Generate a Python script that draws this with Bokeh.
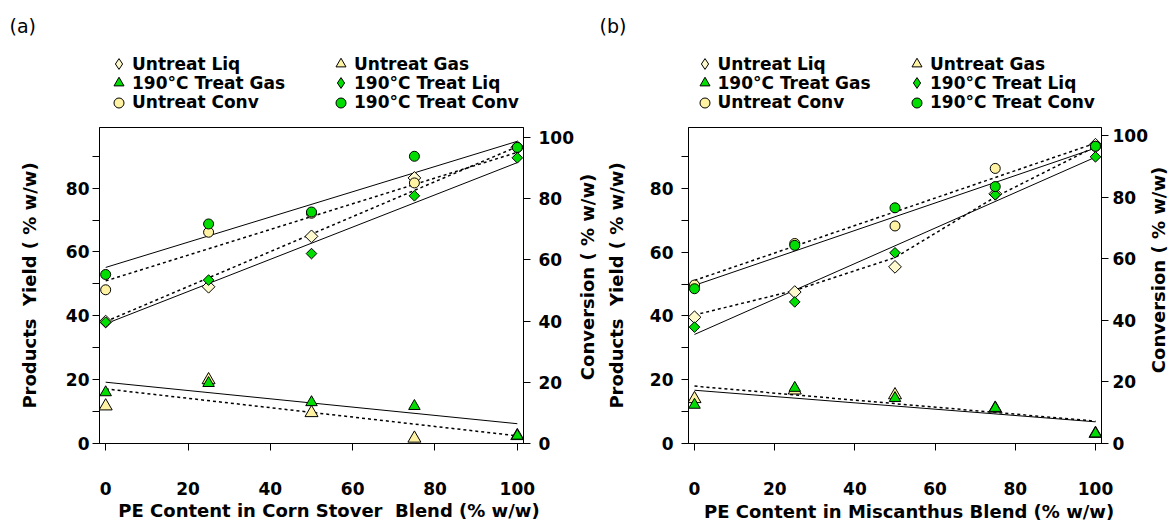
import math
from bokeh.plotting import figure
from bokeh.models import Range1d, LinearAxis, FixedTicker, Legend, LegendItem, Label, Title
from bokeh.layouts import row, column
from bokeh.embed import file_html
from bokeh.resources import INLINE

# ---------------- data ----------------
pe = [0, 25, 50, 75, 100]          # PE content in blend (% w/w)
fit_x = [0, 100]

# (a) Corn stover blend
a_untreat_liq = [38.2, 49.1, 64.9, 83.2, 92.8]
a_treat_liq = [38.0, 51.2, 59.5, 77.6, 89.5]
a_untreat_gas = [11.7, 19.9, 9.6, 1.6, 2.4]
a_treat_gas = [16.0, 18.9, 12.9, 11.7, 2.4]
a_untreat_conv = [50.2, 69.0, 75.2, 85.1, 96.7]
a_treat_conv = [55.2, 71.7, 75.6, 93.8, 96.7]
# trend lines (a)
a_fit_treat_conv = [57.5, 98.7]
a_fit_untreat_conv = [53.1, 95.1]
a_fit_treat_liq = [37.5, 88.0]
a_fit_untreat_liq = [38.2, 93.0]
a_fit_treat_gas = [19.2, 6.2]
a_fit_untreat_gas = [17.1, 2.4]

# (b) Miscanthus blend
b_untreat_liq = [39.6, 47.5, 55.4, 78.3, 93.7]
b_treat_liq = [36.5, 44.4, 59.8, 78.0, 89.9]
b_untreat_gas = [14.0, 16.7, 15.2, 11.0, 3.1]
b_treat_gas = [12.1, 17.4, 14.2, 11.1, 3.1]
b_untreat_conv = [51.5, 65.0, 70.7, 89.4, 96.6]
b_treat_conv = [50.3, 64.4, 76.6, 83.5, 96.6]
# trend lines (b)
b_fit_treat_conv = [51.4, 96.0]
b_fit_untreat_conv = [53.0, 97.6]
b_fit_treat_liq = [34.2, 89.8]
b_fit_untreat_liq = [40.3, 48.0, 58.3, 77.3, 93.1]
b_fit_treat_gas = [16.7, 6.8]
b_fit_untreat_gas = [18.0, 7.0]

legend_labels = ["Untreat Liq", "Untreat Gas", "190°C Treat Gas",
                 "190°C Treat Liq", "Untreat Conv", "190°C Treat Conv"]
yticks_left = [0, 20, 40, 60, 80]
yticks_left_minor = [10, 30, 50, 70, 90]
yticks_right = [0, 20, 40, 60, 80, 100]
xticks = [0, 20, 40, 60, 80, 100]

FONT = "DejaVu Sans"
GREEN = "#00DD00"
CREAM = "#FFFACD"
YELLOW = "#FFF3A3"
W = 1168
HEAD_H = 116
MAIN_H = 522 - HEAD_H

STYLES = {
    "ul": dict(marker="square", angle=math.pi / 4, size=9, fill_color=CREAM),
    "ug": dict(marker="triangle", size=13, fill_color=YELLOW),
    "uc": dict(marker="circle", size=10, fill_color=YELLOW),
    "tl": dict(marker="square", angle=math.pi / 4, size=7.5, fill_color=GREEN),
    "tg": dict(marker="triangle", size=11.5, fill_color=GREEN),
    "tc": dict(marker="circle", size=10, fill_color=GREEN),
}
LEG_MARKER = {"ul": "diamond", "ug": "triangle", "uc": "circle",
              "tl": "diamond", "tg": "triangle", "tc": "circle"}


def bare_fig(w, h):
    f = figure(width=w, height=h, x_range=Range1d(0, w), y_range=Range1d(0, h),
               output_backend="svg", toolbar_location=None, title=None,
               x_axis_location=None, y_axis_location=None,
               min_border_left=0, min_border_right=0, min_border_top=0, min_border_bottom=0)
    f.xgrid.visible = False
    f.ygrid.visible = False
    f.outline_line_color = None
    return f


def style_axis(ax, standoff, label_standoff=None):
    ax.axis_line_color = "black"
    ax.axis_line_width = 1
    ax.major_tick_line_color = "black"
    ax.minor_tick_line_color = "black"
    ax.major_tick_in = 0
    ax.major_tick_out = 7
    ax.minor_tick_in = 0
    ax.minor_tick_out = 0
    ax.major_label_text_font = FONT
    ax.major_label_text_font_style = "bold"
    ax.major_label_text_font_size = "17px"
    ax.major_label_text_color = "black"
    ax.major_label_standoff = standoff
    ax.axis_label_text_font = FONT
    ax.axis_label_text_font_style = "bold"
    ax.axis_label_text_font_size = "18px"
    ax.axis_label_text_color = "black"
    if label_standoff is not None:
        ax.axis_label_standoff = label_standoff


# ---------------- header: panel letters and legends ----------------
head = bare_fig(W, HEAD_H)

# legend-only renderers (hidden; they only supply the legend glyphs)
key_series = {"ul": a_untreat_liq, "ug": a_untreat_gas, "uc": a_untreat_conv,
              "tl": a_treat_liq, "tg": a_treat_gas, "tc": a_treat_conv}
leg_r = {}
for k, st in STYLES.items():
    leg_r[k] = head.scatter(pe, key_series[k], marker=LEG_MARKER[k],
                            fill_color=st["fill_color"], line_color="black",
                            line_width=1, visible=False)

leg_rows = [63.5, 82.8, 102.0]                    # row centres (px from top)
leg_cols = {"a": [118.5, 340.5], "b": [704.0, 916.5]}   # glyph centres (px)
grid = [[(legend_labels[0], "ul"), (legend_labels[1], "ug")],
        [(legend_labels[2], "tg"), (legend_labels[3], "tl")],
        [(legend_labels[4], "uc"), (legend_labels[5], "tc")]]
for pan in ("a", "b"):
    for ri, ry in enumerate(leg_rows):
        for ci, gx in enumerate(leg_cols[pan]):
            text, k = grid[ri][ci]
            gb = 27 if k in ("ul", "tl") else 25
            leg = Legend(items=[LegendItem(label=text, renderers=[leg_r[k]])],
                         location=(gx - gb / 2, HEAD_H - (ry + gb / 2)),
                         orientation="vertical", glyph_width=gb, glyph_height=gb,
                         label_standoff=1 if gb == 25 else 0, spacing=0, padding=0, margin=0,
                         border_line_color=None, background_fill_alpha=0,
                         label_height=19, inactive_fill_alpha=0,
                         label_text_font=FONT, label_text_font_style="bold",
                         label_text_font_size="17px", label_text_color="black")
            head.add_layout(leg, "center")

for tag, tx in [("(a)", 9), ("(b)", 599)]:
    head.add_layout(Label(x=tx, y=HEAD_H - 25, text=tag, text_align="left",
                          text_baseline="middle", text_font=FONT,
                          text_font_size="19px", text_color="black"))


def conv_label_fig(w, yc, xc):
    f = bare_fig(w, MAIN_H)
    f.add_layout(Label(x=xc, y=MAIN_H - (yc - HEAD_H), text="Conversion ( % w/w)",
                       angle=math.pi / 2, text_align="center", text_baseline="middle",
                       text_font=FONT, text_font_style="bold", text_font_size="18px",
                       text_color="black"))
    return f


def panel(cfg):
    p = figure(width=cfg["width"], height=MAIN_H, title=None,
               x_range=Range1d(-1.5, 101.5), y_range=Range1d(0, cfg["ymax"]),
               output_backend="svg", toolbar_location=None,
               min_border_left=cfg["bl"], min_border_right=cfg["br"],
               min_border_top=cfg["bt"], min_border_bottom=cfg["bb"])
    p.extra_y_ranges = {"conv": Range1d(0, cfg["ymax_r"])}
    p.xgrid.visible = False
    p.ygrid.visible = False
    p.outline_line_color = "black"
    p.outline_line_width = 1

    xa = p.below[0]
    style_axis(xa, cfg["xstand"])
    xa.ticker = FixedTicker(ticks=xticks)

    ya = p.left[0]
    style_axis(ya, cfg["ystand"], cfg["ylab_stand"])
    ya.ticker = FixedTicker(ticks=yticks_left, minor_ticks=yticks_left_minor)
    ya.minor_tick_out = 7
    ya.axis_label = "Products \u00a0Yield ( % w/w)"

    ra = LinearAxis(y_range_name="conv")
    style_axis(ra, cfg["rstand"])
    ra.ticker = FixedTicker(ticks=yticks_right)
    p.add_layout(ra, "right")

    p.add_layout(Title(text=cfg["xlabel"], align="left", offset=cfg["xlab_off"],
                       standoff=cfg["xlab_stand"], text_font=FONT, text_font_style="bold",
                       text_font_size="18px", text_color="black"), "below")

    d = cfg["data"]
    f = cfg["fits"]
    # trend lines
    p.line(fit_x, f["treat_conv"], line_color="black", line_width=1, y_range_name="conv")
    p.line(fit_x, f["untreat_conv"], line_color="black", line_width=1.5,
           line_dash="3 3", y_range_name="conv")
    p.line(fit_x, f["treat_liq"], line_color="black", line_width=1)
    p.line(f["untreat_liq_x"], f["untreat_liq"], line_color="black", line_width=1.5,
           line_dash="3 3")
    p.line(fit_x, f["treat_gas"], line_color="black", line_width=1)
    p.line(fit_x, f["untreat_gas"], line_color="black", line_width=1.5, line_dash="3 3")

    # markers: untreated first, treated on top
    for key, series, conv in [("ul", d["untreat_liq"], False), ("ug", d["untreat_gas"], False),
                              ("uc", d["untreat_conv"], True), ("tl", d["treat_liq"], False),
                              ("tg", d["treat_gas"], False), ("tc", d["treat_conv"], True)]:
        kw = dict(line_color="black", line_width=1, **STYLES[key])
        if conv:
            kw["y_range_name"] = "conv"
        p.scatter(pe, series, **kw)
    return p


WA = 576          # panel (a) canvas 0..576, its conversion title strip 576..598
WB = 552          # panel (b) canvas 598..1150, its conversion title strip 1150..1168

pa = panel(dict(
    width=WA, bl=99, br=52, bt=11, bb=MAIN_H - 11 - 319, ymax=99.0, ymax_r=103.2,
    xstand=31, ystand=3, ylab_stand=23, rstand=8,
    xlabel="PE Content in Corn Stover \u00a0Blend (% w/w)", xlab_off=18.8, xlab_stand=0,
    data=dict(untreat_liq=a_untreat_liq, treat_liq=a_treat_liq,
              untreat_gas=a_untreat_gas, treat_gas=a_treat_gas,
              untreat_conv=a_untreat_conv, treat_conv=a_treat_conv),
    fits=dict(treat_conv=a_fit_treat_conv, untreat_conv=a_fit_untreat_conv,
              treat_liq=a_fit_treat_liq, untreat_liq=a_fit_untreat_liq,
              untreat_liq_x=fit_x,
              treat_gas=a_fit_treat_gas, untreat_gas=a_fit_untreat_gas),
))

pb = panel(dict(
    width=WB, bl=90, br=46, bt=5, bb=MAIN_H - 5 - 322, ymax=99.1, ymax_r=102.7,
    xstand=31, ystand=8, ylab_stand=20, rstand=4,
    xlabel="PE Content in Miscanthus Blend (% w/w)", xlab_off=15.5, xlab_stand=2,
    data=dict(untreat_liq=b_untreat_liq, treat_liq=b_treat_liq,
              untreat_gas=b_untreat_gas, treat_gas=b_treat_gas,
              untreat_conv=b_untreat_conv, treat_conv=b_treat_conv),
    fits=dict(treat_conv=b_fit_treat_conv, untreat_conv=b_fit_untreat_conv,
              treat_liq=b_fit_treat_liq, untreat_liq=b_fit_untreat_liq,
              untreat_liq_x=pe,
              treat_gas=b_fit_treat_gas, untreat_gas=b_fit_untreat_gas),
))

ca = conv_label_fig(598 - WA, 308, 11)
cb = conv_label_fig(W - 598 - WB, 299, 8)

layout = column(head, row(pa, ca, pb, cb, spacing=0), spacing=0)
open("out.html", "w").write(file_html(layout, INLINE))
